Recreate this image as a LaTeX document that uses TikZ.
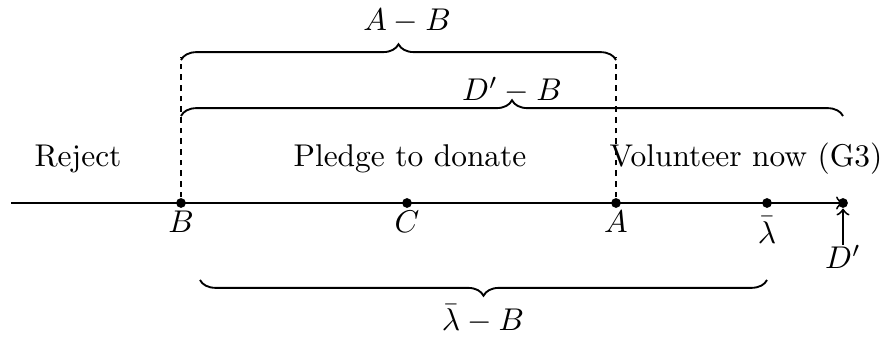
\documentclass[tikz,border=0pt]{standalone}
\usetikzlibrary{decorations.pathreplacing}
\begin{document}
\begin{tikzpicture}[x=0.318pt,y=-0.318pt,
  dot/.style={circle,fill=black,inner sep=0pt,minimum size=3.1pt},
  ptlabel/.style={inner sep=0pt},
  bracestyle/.style={semithick,decorate,decoration={brace,amplitude=5pt}},
  mbracestyle/.style={semithick,decorate,decoration={brace,mirror,amplitude=5pt}},
  guide/.style={thin,dash pattern=on 1.8pt off 1.6pt}]
\useasboundingbox (0,0) rectangle (885,337);
% axis
\coordinate (start) at (11,203);
\node[dot] (B) at (181,203) {};
\node[dot] (C) at (407,203) {};
\node[dot] (A) at (616,203) {};
\node[dot] (L) at (767,203) {};
\node[dot] (D) at (843,203) {};
\draw[semithick,->] (start) -- (D.center);
% point labels
\node[ptlabel] (Bl) at (181,222) {$B$};
\node[ptlabel] (Cl) at (407,222) {$C$};
\node[ptlabel] (Al) at (616,222) {$A$};
\node[ptlabel] (Ll) at (767,230) {$\bar\lambda$};
\node[ptlabel] (Dl) at (843,257) {$D'$};
\draw[semithick,->] (Dl.north) -- (D.south);
% region labels
\node[anchor=base] (rej) at (78,167) {Reject};
\node[anchor=base] (pl) at (410,167) {Pledge to donate};
\node[anchor=base] (vol) at (746,167) {Volunteer now (G3)};
% guides
\coordinate (Btop) at (181,57);
\coordinate (Atop) at (616,57);
\draw[guide] (B) -- (Btop);
\draw[guide] (A) -- (Atop);
% braces
\coordinate (b1s) at (181,60);
\coordinate (b1e) at (616,60);
\draw[bracestyle] (b1s) -- (b1e);
\node[anchor=base] (AB) at (407,31) {$A-B$};
\coordinate (b2s) at (181,116);
\coordinate (b2e) at (843,116);
\draw[bracestyle] (b2s) -- (b2e);
\node[anchor=base] (DB) at (512,101) {$D'-B$};
\coordinate (b3s) at (200,280);
\coordinate (b3e) at (767,280);
\draw[mbracestyle] (b3s) -- (b3e);
\node[anchor=base] (LB) at (483,331) {$\bar\lambda-B$};
\end{tikzpicture}
\end{document}
